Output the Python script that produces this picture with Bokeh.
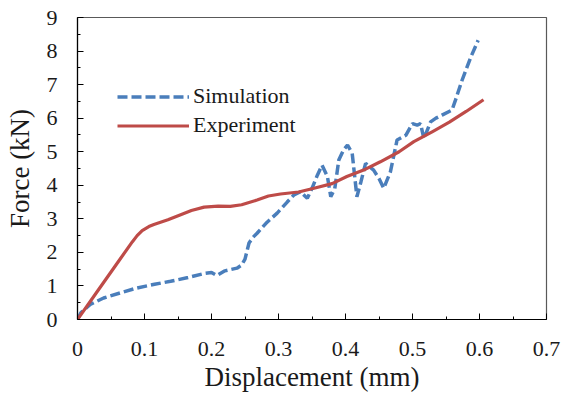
from bokeh.plotting import figure
from bokeh.models import Range1d, FixedTicker, Legend, LegendItem
from bokeh.embed import file_html
from bokeh.resources import INLINE

# Experiment (red solid)
exp_x = [0, 0.03, 0.06, 0.082, 0.089, 0.0965, 0.1065, 0.114, 0.135, 0.154, 0.17, 0.189,
         0.21, 0.228, 0.245, 0.268, 0.285, 0.303, 0.33, 0.353, 0.38, 0.402, 0.43, 0.452,
         0.48, 0.502, 0.53, 0.555, 0.58, 0.606]
exp_y = [0, 0.85, 1.7, 2.32, 2.5, 2.65, 2.77, 2.83, 2.97, 3.12, 3.25, 3.35,
         3.38, 3.37, 3.42, 3.56, 3.68, 3.74, 3.8, 3.91, 4.05, 4.26, 4.48, 4.70,
         5.0, 5.30, 5.6, 5.88, 6.2, 6.55]

# Simulation (blue dashed)
sim_x = [0, 0.005, 0.019, 0.039, 0.065, 0.089, 0.115, 0.139, 0.165, 0.189, 0.2, 0.208,
         0.22, 0.238, 0.245, 0.25, 0.256, 0.262, 0.268, 0.283, 0.298, 0.313, 0.323,
         0.333, 0.343, 0.350, 0.358, 0.365, 0.373, 0.378, 0.384, 0.390, 0.397, 0.403,
         0.410, 0.417, 0.423, 0.430, 0.442, 0.450, 0.457, 0.467, 0.477, 0.49, 0.500,
         0.507, 0.512, 0.517, 0.527, 0.535, 0.544, 0.559, 0.564, 0.574, 0.587, 0.598]
sim_y = [0, 0.2, 0.45, 0.64, 0.8, 0.94, 1.05, 1.14, 1.25, 1.37, 1.4, 1.31,
         1.45, 1.53, 1.62, 1.8, 2.28, 2.45, 2.57, 2.9, 3.17, 3.5, 3.71,
         3.81, 3.61, 3.91, 4.3, 4.6, 4.26, 3.66, 3.9, 4.75, 5.05, 5.2,
         4.95, 3.66, 4.1, 4.65, 4.45, 4.2, 3.91, 4.4, 5.35, 5.49, 5.84,
         5.79, 5.84, 5.39, 5.89, 6.0, 6.09, 6.24, 6.53, 7.13, 7.82, 8.32]

x_ticks = [0, 0.1, 0.2, 0.3, 0.4, 0.5, 0.6, 0.7]
y_ticks = [0, 1, 2, 3, 4, 5, 6, 7, 8, 9]
x_minor = [0.05, 0.15, 0.25, 0.35, 0.45, 0.55, 0.65]
y_minor = [0.5, 1.5, 2.5, 3.5, 4.5, 5.5, 6.5, 7.5, 8.5]

FONT = "Liberation Serif"
BLUE = "#4a7ebb"
RED = "#be4b48"

p = figure(width=561, height=394, output_backend="svg", toolbar_location=None,
           x_range=Range1d(0, 0.7), y_range=Range1d(0, 9),
           min_border_left=77, min_border_right=15, min_border_top=17, min_border_bottom=74)

p.xgrid.visible = False
p.ygrid.visible = False
p.outline_line_color = "#595959"
p.outline_line_width = 1.2
p.background_fill_color = "white"
p.border_fill_color = "white"

r_sim = p.line(sim_x, sim_y, line_color=BLUE, line_width=3.5, line_dash="10 4")
r_exp = p.line(exp_x, exp_y, line_color=RED, line_width=3.2, line_join="round")

p.xaxis.ticker = FixedTicker(ticks=x_ticks, minor_ticks=x_minor)
p.yaxis.ticker = FixedTicker(ticks=y_ticks, minor_ticks=y_minor)
p.xaxis.major_label_overrides = {0: "0"}

for ax in (p.xaxis, p.yaxis):
    ax.axis_line_color = "black"
    ax.axis_line_width = 1.2
    ax.major_tick_line_color = "black"
    ax.minor_tick_line_color = "black"
    ax.major_tick_in = 6
    ax.major_tick_out = 0
    ax.minor_tick_in = 3
    ax.minor_tick_out = 0
    ax.major_label_text_font = FONT
    ax.major_label_text_font_size = "22px"
    ax.major_label_text_color = "#1a1a1a"
    ax.axis_label_text_font = FONT
    ax.axis_label_text_font_size = "27px"
    ax.axis_label_text_font_style = "normal"
    ax.axis_label_text_color = "#1a1a1a"

p.xaxis.axis_label = "Displacement (mm)"
p.yaxis.axis_label = "Force (kN)"
p.xaxis.major_label_standoff = 22
p.yaxis.major_label_standoff = 20
p.xaxis.axis_label_standoff = 3
p.yaxis.axis_label_standoff = 9

legend = Legend(items=[LegendItem(label="Simulation", renderers=[r_sim]),
                       LegendItem(label="Experiment", renderers=[r_exp])],
                location=(40, 181), orientation="vertical",
                glyph_width=72, glyph_height=25, label_standoff=4, spacing=3,
                padding=0, margin=0,
                label_text_font=FONT,
                label_text_font_size="22px",
                label_text_color="#1a1a1a",
                background_fill_alpha=0, border_line_alpha=0)
p.add_layout(legend, "center")

open("out.html", "w").write(file_html(p, INLINE))
